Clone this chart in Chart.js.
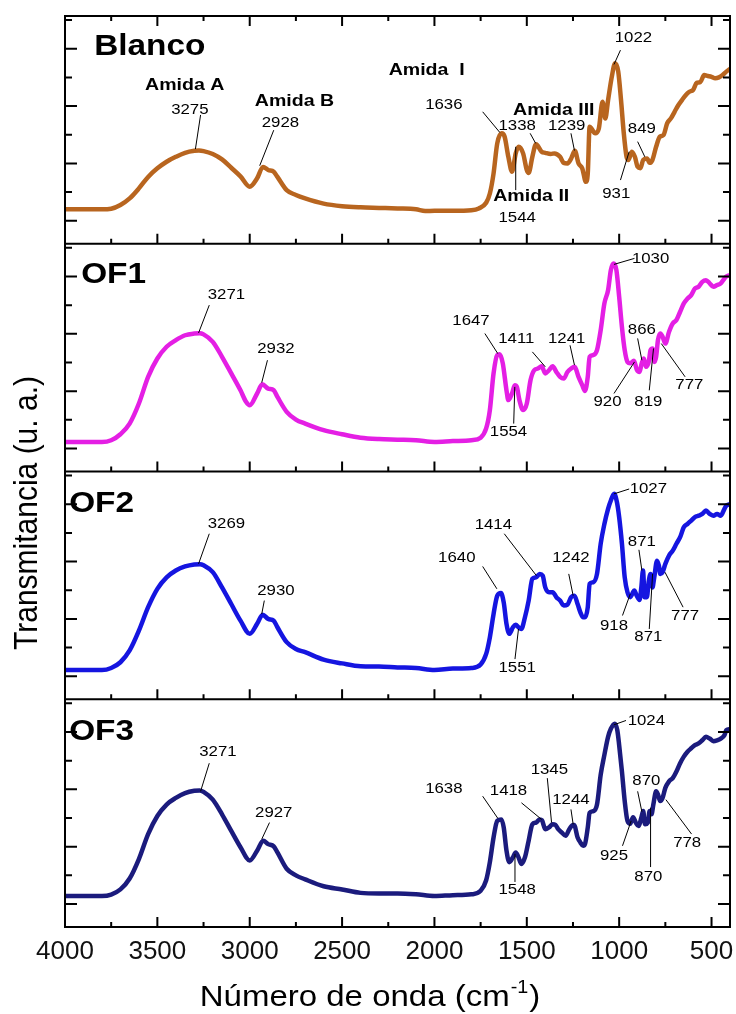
<!DOCTYPE html>
<html><head><meta charset="utf-8">
<script src="https://cdn.jsdelivr.net/npm/chart.js@4.4.1/dist/chart.umd.min.js"></script>
<style>html,body{margin:0;padding:0;background:#fff;overflow:hidden}#wrap{position:relative;width:736px;height:1014px}</style>
</head><body><div id="wrap"><canvas id="c" width="736" height="1014"></canvas></div>
<script>
// ---- data ----
const xTickValues = [4000, 3500, 3000, 2500, 2000, 1500, 1000, 500];
const panelNames = ['Blanco', 'OF1', 'OF2', 'OF3'];

const wnBlanco = [4000,3800,3750,3700,3650,3600,3550,3500,3450,3400,3350,3300,3275,3250,3200,3150,3100,3050,3000,2960,2928,2900,2870,2850,2800,2750,2700,2600,2500,2400,2300,2200,2100,2050,2000,1900,1800,1760,1720,1700,1680,1660,1636,1620,1600,1580,1560,1544,1520,1500,1490,1470,1450,1420,1400,1370,1350,1320,1300,1280,1260,1240,1220,1200,1180,1170,1160,1150,1130,1110,1090,1075,1060,1040,1022,1005,990,975,960,950,931,915,900,885,870,849,835,820,800,780,760,740,720,700,680,660,640,620,600,580,560,540,520,500,480,460,440,420,400];
const tBlanco = [0.40,0.40,0.42,0.55,0.78,1.13,1.53,1.83,2.06,2.23,2.37,2.44,2.45,2.43,2.33,2.14,1.85,1.55,1.19,1.48,1.88,1.77,1.71,1.53,1.07,0.90,0.78,0.60,0.51,0.47,0.45,0.43,0.40,0.34,0.35,0.35,0.37,0.43,0.63,0.95,1.65,2.70,3.05,2.93,2.23,1.71,2.35,2.58,2.35,1.77,1.67,2.23,2.67,2.41,2.37,2.33,2.35,2.23,2.02,2.00,2.17,2.44,2.00,1.83,1.36,1.65,3.28,3.22,3.05,3.22,4.15,3.57,4.21,5.02,5.49,5.20,4.21,3.05,2.23,2.12,2.41,2.23,1.88,1.83,2.12,2.17,2.02,2.12,2.58,2.93,2.99,3.40,3.57,3.80,4.03,4.21,4.38,4.50,4.56,4.81,4.84,5.08,5.05,5.02,4.97,5.00,5.08,5.20,5.30];

const wnOF1 = [4000,3800,3750,3700,3650,3600,3550,3500,3450,3400,3350,3300,3271,3250,3200,3150,3100,3050,3020,3000,2960,2932,2900,2870,2850,2800,2750,2700,2600,2500,2400,2300,2200,2100,2000,1900,1800,1750,1720,1700,1680,1660,1647,1630,1610,1600,1580,1565,1554,1540,1520,1500,1480,1460,1440,1420,1400,1380,1360,1340,1320,1300,1280,1260,1241,1220,1200,1185,1170,1160,1140,1120,1100,1080,1060,1045,1030,1015,1000,985,970,955,940,920,905,890,878,866,855,840,830,819,810,800,790,777,765,750,730,710,690,670,650,630,610,590,570,550,530,510,490,470,450,430,420,400];
const tOF1 = [0.23,0.23,0.29,0.50,0.87,1.57,2.50,3.14,3.55,3.78,3.95,4.01,4.02,3.98,3.72,3.20,2.62,2.03,1.63,1.51,1.92,2.24,2.09,2.03,1.80,1.28,1.01,0.87,0.64,0.50,0.38,0.33,0.31,0.29,0.23,0.26,0.29,0.38,0.70,1.34,2.62,3.26,3.29,2.97,2.03,1.69,1.92,2.21,2.15,1.69,1.34,1.57,2.38,2.73,2.79,2.87,2.62,2.73,2.87,2.67,2.50,2.44,2.67,2.79,2.85,2.50,2.21,2.01,2.50,3.20,3.26,3.43,4.13,5.06,5.52,6.22,6.45,6.22,5.29,4.24,3.43,3.02,2.97,3.06,2.76,2.67,2.97,3.14,2.85,3.02,3.43,3.49,3.02,3.20,3.78,4.01,3.90,3.66,4.07,4.36,4.48,4.77,5.06,5.23,5.35,5.58,5.64,5.81,5.87,5.76,5.64,5.70,5.76,5.93,6.00,6.05];

const wnOF2 = [4000,3800,3750,3700,3650,3600,3550,3500,3450,3400,3350,3300,3269,3250,3200,3150,3100,3050,3000,2960,2930,2900,2870,2850,2800,2750,2700,2600,2500,2400,2300,2200,2100,2000,1900,1800,1750,1720,1700,1680,1660,1640,1625,1610,1595,1575,1560,1545,1530,1510,1490,1470,1450,1430,1414,1400,1380,1360,1340,1320,1300,1280,1260,1242,1225,1210,1195,1185,1170,1160,1140,1120,1100,1080,1060,1045,1027,1012,1000,985,970,955,940,925,918,905,890,880,871,862,850,840,830,820,810,795,785,777,765,750,730,710,690,670,650,630,610,590,570,550,530,510,490,470,450,430,420,400];
const tOF2 = [0.22,0.22,0.29,0.49,0.90,1.59,2.41,3.05,3.45,3.69,3.83,3.90,3.91,3.87,3.63,3.10,2.52,1.94,1.48,1.83,2.15,2.00,1.94,1.71,1.19,0.95,0.84,0.58,0.45,0.35,0.34,0.31,0.29,0.22,0.27,0.29,0.41,0.78,1.36,2.17,2.81,2.90,2.58,1.83,1.48,1.71,1.80,1.71,1.65,2.06,2.64,3.40,3.45,3.57,3.51,3.10,2.93,2.93,2.76,2.64,2.47,2.50,2.76,2.81,2.52,2.23,2.06,2.06,2.41,3.22,3.28,3.57,4.62,5.31,5.84,6.13,6.36,6.07,5.55,4.62,3.45,2.93,2.76,2.93,2.99,2.81,2.66,3.10,3.69,2.76,2.76,3.31,3.57,3.10,3.45,4.03,3.86,3.57,3.63,3.92,4.21,4.38,4.62,4.85,5.20,5.31,5.43,5.55,5.60,5.66,5.78,5.66,5.60,5.66,5.60,5.84,5.95,6.00];

const wnOF3 = [4000,3800,3750,3700,3650,3600,3550,3500,3450,3400,3350,3300,3271,3250,3200,3150,3100,3050,3000,2960,2927,2900,2870,2850,2800,2750,2700,2600,2500,2400,2300,2200,2100,2000,1900,1800,1750,1720,1700,1680,1660,1638,1625,1610,1595,1575,1560,1545,1530,1510,1490,1470,1450,1430,1418,1400,1380,1360,1345,1330,1310,1290,1270,1250,1244,1225,1210,1195,1185,1170,1160,1140,1120,1100,1080,1060,1045,1024,1010,1000,985,970,955,940,925,910,895,880,870,860,845,835,825,815,800,790,778,765,750,730,710,690,670,650,630,610,590,570,550,530,510,490,470,450,430,420,400];
const tOF3 = [0.28,0.28,0.33,0.51,0.89,1.57,2.44,3.07,3.47,3.70,3.87,3.95,3.96,3.91,3.64,3.13,2.55,1.98,1.52,1.86,2.21,2.09,2.01,1.80,1.23,1.00,0.86,0.62,0.51,0.39,0.37,0.37,0.34,0.28,0.31,0.34,0.46,0.83,1.46,2.32,2.90,2.95,2.67,1.86,1.46,1.63,1.80,1.63,1.40,1.63,2.21,2.78,2.84,2.95,2.92,2.61,2.67,2.78,2.76,2.61,2.49,2.38,2.61,2.76,2.76,2.32,2.15,2.03,2.09,2.67,3.18,3.24,3.47,4.51,5.20,5.83,6.11,6.29,6.06,5.54,4.62,3.59,2.90,2.80,3.03,2.84,2.72,3.01,3.24,2.78,2.84,3.24,3.13,3.47,3.93,3.82,3.59,3.70,4.05,4.28,4.39,4.62,4.91,5.14,5.31,5.43,5.54,5.60,5.71,5.83,5.77,5.68,5.71,5.77,5.89,6.06,6.10];

// ---- peak annotations (label text, label anchor in data units, leader line in data units) ----
const notesBlanco = [
  {t:'Blanco', x:3541, y:6.07, k:'panel'},
  {t:'Amida A', x:3352, y:4.73, k:'band'},
  {t:'3275', x:3324, y:3.88, l:[3266,3.69,3294,2.50]},
  {t:'Amida B', x:2758, y:4.15, k:'band'},
  {t:'2928', x:2834, y:3.40, l:[2870,3.16,2946,1.92]},
  {t:'Amida  I', x:2042, y:5.26, k:'band'},
  {t:'1636', x:1949, y:4.03, l:[1739,3.80,1646,3.08]},
  {t:'Amida III', x:1354, y:3.86, k:'band'},
  {t:'1338', x:1552, y:3.30, l:[1482,3.05,1452,2.70]},
  {t:'1239', x:1284, y:3.30, l:[1261,3.05,1242,2.45]},
  {t:'Amida II', x:1476, y:0.84, k:'band'},
  {t:'1544', x:1552, y:0.12, l:[1560,1.07,1560,2.58]},
  {t:'1022', x:923, y:6.38, l:[993,5.95,1028,5.45]},
  {t:'931', x:1016, y:0.95, l:[993,1.42,946,2.41]},
  {t:'849', x:877, y:3.22, l:[900,2.76,861,2.23]}
];
const notesOF1 = [
  {t:'OF1', x:3737, y:6.05, k:'panel'},
  {t:'3271', x:3126, y:5.35, l:[3219,5.0,3277,4.03]},
  {t:'2932', x:2858, y:3.49, l:[2904,3.08,2935,2.30]},
  {t:'1647', x:1802, y:4.45, l:[1727,4.01,1657,3.31]},
  {t:'1411', x:1557, y:3.84, l:[1470,3.37,1400,2.85]},
  {t:'1241', x:1284, y:3.84, l:[1266,3.60,1242,2.91]},
  {t:'1554', x:1599, y:0.58, l:[1571,0.87,1565,2.15]},
  {t:'1030', x:830, y:6.63, l:[917,6.63,1028,6.42]},
  {t:'866', x:877, y:4.15, l:[900,3.84,877,3.08]},
  {t:'920', x:1063, y:1.63, l:[1028,1.92,917,3.02]},
  {t:'819', x:842, y:1.63, l:[837,2.03,814,3.49]},
  {t:'777', x:620, y:2.21, l:[643,2.5,772,3.66]}
];
const notesOF2 = [
  {t:'OF2', x:3802, y:6.01, k:'panel'},
  {t:'3269', x:3126, y:5.31, l:[3219,4.97,3277,3.92]},
  {t:'2930', x:2858, y:2.99, l:[2921,2.64,2935,2.17]},
  {t:'1640', x:1879, y:4.13, l:[1739,3.83,1662,3.05]},
  {t:'1414', x:1681, y:5.29, l:[1622,4.97,1448,3.51]},
  {t:'1242', x:1261, y:4.13, l:[1273,3.57,1249,2.81]},
  {t:'1551', x:1552, y:0.31, l:[1564,0.6,1545,1.65]},
  {t:'1027', x:842, y:6.53, l:[946,6.53,1028,6.36]},
  {t:'871', x:877, y:4.67, l:[893,4.41,877,3.69]},
  {t:'918', x:1028, y:1.77, l:[982,2.12,940,2.87]},
  {t:'871', x:842, y:1.36, l:[837,1.65,819,3.57]},
  {t:'777', x:643, y:2.12, l:[654,2.41,752,3.63]}
];
const notesOF3 = [
  {t:'OF3', x:3802, y:6.0, k:'panel'},
  {t:'3271', x:3172, y:5.31, l:[3219,4.91,3266,3.93]},
  {t:'2927', x:2870, y:3.18, l:[2893,2.84,2935,2.26]},
  {t:'1638', x:1949, y:4.02, l:[1739,3.76,1657,2.99]},
  {t:'1418', x:1599, y:3.95, l:[1529,3.53,1420,2.95]},
  {t:'1345', x:1378, y:4.68, l:[1389,4.39,1366,2.84]},
  {t:'1244', x:1261, y:3.64, l:[1261,3.30,1249,2.78]},
  {t:'1548', x:1552, y:0.48, l:[1564,0.77,1564,1.75]},
  {t:'1024', x:853, y:6.4, l:[963,6.4,1028,6.25]},
  {t:'870', x:853, y:4.3, l:[900,3.93,877,3.22]},
  {t:'925', x:1028, y:1.69, l:[982,2.03,935,2.9]},
  {t:'870', x:842, y:0.94, l:[830,1.29,830,3.36]},
  {t:'778', x:632, y:2.15, l:[608,2.44,747,3.64]}
];

const FONT = '"Liberation Sans", Arial, sans-serif';
const textStyles = {
  panel: {font: 'bold 29px ' + FONT, sx: 1.15},
  band:  {font: 'bold 17px ' + FONT, sx: 1.15},
  num:   {font: '15px ' + FONT, sx: 1.12}
};
const panelIds = ['y1', 'y2', 'y3', 'y4'];
const series = [[wnBlanco, tBlanco], [wnOF1, tOF1], [wnOF2, tOF2], [wnOF3, tOF3]];
const colors = ['#b8651f', '#e41fe4', '#1515e0', '#1b1b7d'];
const notes = [notesBlanco, notesOF1, notesOF2, notesOF3];

const datasets = series.map(([wn, t], i) => ({
  label: panelNames[i],
  data: wn.map((w, k) => ({x: w, y: t[k]})),
  yAxisID: panelIds[i],
  borderColor: colors[i],
  borderWidth: 4.5,
  pointRadius: 0,
  cubicInterpolationMode: 'monotone',
  fill: false
}));

// stacked panel scales: Chart.js stacks later-defined scales on top, so define bottom panel first
const scales = {
  x: {
    type: 'linear', reverse: true, min: 400, max: 4000, position: 'bottom',
    afterBuildTicks: s => { s.ticks = xTickValues.slice().reverse().map(v => ({value: v})); },
    ticks: {font: {family: FONT, size: 26}, color: '#111', padding: 9, maxRotation: 0, autoSkip: false,
            callback: v => String(v)},
    grid: {display: false, drawTicks: false}, border: {display: false},
    afterFit: s => { s.height = 87; }
  }
};
panelIds.slice().reverse().forEach(id => {
  scales[id] = {
    type: 'linear', position: 'left', stack: 'panels', stackWeight: 1,
    min: -0.8, max: 7.14,
    ticks: {display: false}, grid: {display: false, drawTicks: false}, border: {display: false},
    afterFit: s => { s.width = 65; }
  };
});

function stretchedText(ctx, text, x, y, font, sx, align) {
  ctx.save();
  ctx.translate(x, y);
  ctx.scale(sx, 1);
  ctx.font = font;
  ctx.textAlign = align || 'center';
  ctx.fillText(text, 0, 0);
  ctx.restore();
}

const decor = {
  id: 'decor',
  afterDraw(chart) {
    const ctx = chart.ctx, xs = chart.scales.x, a = chart.chartArea;
    const L = a.left, R = a.right;
    const firstId = panelIds.reduce((m, id) => chart.scales[id].top < chart.scales[m].top ? id : m, panelIds[0]);
    ctx.save();
    ctx.strokeStyle = '#000';
    ctx.lineCap = 'butt';
    panelIds.forEach((id, i) => {
      const ys = chart.scales[id];
      const top = ys.top, bot = ys.bottom;
      const isTop = id === firstId;
      ctx.lineWidth = 2;
      ctx.beginPath();
      ctx.moveTo(L, top); ctx.lineTo(L, bot);
      ctx.moveTo(R, top); ctx.lineTo(R, bot);
      ctx.moveTo(L - 1, bot); ctx.lineTo(R + 1, bot);
      if (isTop) { ctx.moveTo(L - 1, top); ctx.lineTo(R + 1, top); }
      ctx.stroke();
      ctx.beginPath();
      for (let v = 0; v <= 7; v++) {
        const py = ys.getPixelForValue(v);
        const len = v % 2 === 0 ? 12 : 7;
        ctx.moveTo(L, py); ctx.lineTo(L + len, py);
        ctx.moveTo(R, py); ctx.lineTo(R - len, py);
      }
      for (let v = 500; v < 4000; v += 250) {
        const px = xs.getPixelForValue(v);
        const len = v % 500 === 0 ? 10 : 5;
        ctx.moveTo(px, bot); ctx.lineTo(px, bot - len);
        if (isTop) { ctx.moveTo(px, top); ctx.lineTo(px, top + len); }
      }
      ctx.stroke();
      // annotations
      ctx.fillStyle = '#000';
      ctx.textBaseline = 'middle';
      notes[i].forEach(n => {
        const st = textStyles[n.k || 'num'];
        stretchedText(ctx, n.t, xs.getPixelForValue(n.x), ys.getPixelForValue(n.y), st.font, st.sx);
        if (n.l) {
          ctx.lineWidth = 1;
          ctx.beginPath();
          ctx.moveTo(xs.getPixelForValue(n.l[0]), ys.getPixelForValue(n.l[1]));
          ctx.lineTo(xs.getPixelForValue(n.l[2]), ys.getPixelForValue(n.l[3]));
          ctx.stroke();
        }
      });
    });
    // y axis title
    ctx.fillStyle = '#000';
    ctx.save();
    ctx.translate(28, 513);
    ctx.rotate(-Math.PI / 2);
    ctx.scale(1, 1.1);
    ctx.font = '30px ' + FONT;
    ctx.textAlign = 'center';
    ctx.textBaseline = 'middle';
    ctx.fillText('Transmitancia (u. a.)', 0, 0);
    ctx.restore();
    // x axis title with superscript
    const main = 'Número de onda (cm';
    const sup = '-1';
    const sx = 1.1;
    ctx.textBaseline = 'alphabetic';
    ctx.font = '30px ' + FONT;
    const w1 = ctx.measureText(main).width * sx;
    const w3 = ctx.measureText(')').width * sx;
    ctx.font = '18px ' + FONT;
    const w2 = ctx.measureText(sup).width * sx;
    const total = w1 + w2 + w3 + 2;
    const x0 = 370 - total / 2;
    const base = 1006;
    stretchedText(ctx, main, x0, base, '30px ' + FONT, sx, 'left');
    stretchedText(ctx, sup, x0 + w1 + 1, base - 13, '18px ' + FONT, sx, 'left');
    stretchedText(ctx, ')', x0 + w1 + w2 + 2, base, '30px ' + FONT, sx, 'left');
    ctx.restore();
  }
};

new Chart(document.getElementById('c'), {
  type: 'line',
  data: {datasets},
  options: {
    responsive: false,
    animation: false,
    layout: {padding: {top: 16, right: 6, left: 0, bottom: 0}},
    plugins: {legend: {display: false}, tooltip: {enabled: false}},
    scales
  },
  plugins: [decor]
});
</script></body></html>
